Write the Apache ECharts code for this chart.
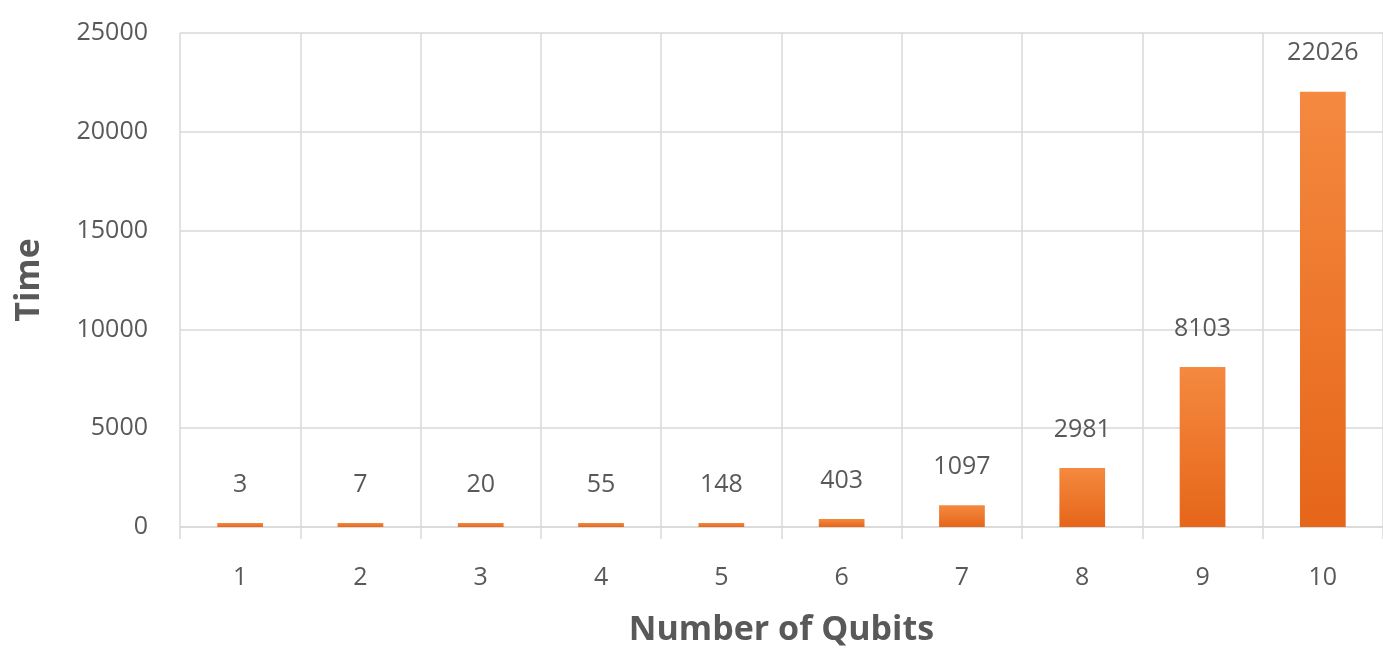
<!DOCTYPE html>
<html>
<head>
<meta charset="utf-8">
<script src="https://cdn.jsdelivr.net/npm/echarts@6/dist/echarts.min.js"></script>
<style>
  html, body { margin: 0; padding: 0; background: #fff; }
  #chart { width: 1383px; height: 657px; }
</style>
</head>
<body>
<div id="chart"></div>
<script>
const qubits = ['1', '2', '3', '4', '5', '6', '7', '8', '9', '10']
const times = [3, 7, 20, 55, 148, 403, 1097, 2981, 8103, 22026]

const textColor = '#595959'
const lineColor = '#d9d9d9'
const font = 'Open Sans'

const chart = echarts.init(document.getElementById('chart'))
chart.setOption({
  animation: false,
  grid: { left: 180, right: -5, top: 33, bottom: 130 },
  xAxis: {
    type: 'category',
    data: qubits,
    name: 'Number of Qubits',
    nameLocation: 'middle',
    nameGap: 86,
    nameTextStyle: { fontFamily: font, fontSize: 34, fontWeight: 'bold', color: textColor },
    axisLine: { lineStyle: { color: lineColor, width: 1.5 } },
    axisTick: { show: true, length: 12, lineStyle: { color: lineColor, width: 1.5 } },
    axisLabel: { margin: 38, fontFamily: font, fontSize: 25, color: textColor },
    splitLine: { show: true, lineStyle: { color: lineColor, width: 1.5 } }
  },
  yAxis: {
    type: 'value',
    min: 0,
    max: 25000,
    interval: 5000,
    name: 'Time',
    nameLocation: 'middle',
    nameGap: 134,
    nameTextStyle: { fontFamily: font, fontSize: 34, fontWeight: 'bold', color: textColor },
    axisLine: { show: false },
    axisTick: { show: false },
    axisLabel: { margin: 32, fontFamily: font, fontSize: 25, color: textColor, formatter: v => String(v) },
    splitLine: { lineStyle: { color: lineColor, width: 1.5 } }
  },
  series: [{
    type: 'bar',
    data: times,
    barWidth: '38%',
    barMinHeight: 4,
    itemStyle: {
      color: new echarts.graphic.LinearGradient(0, 0, 0, 1, [
        { offset: 0, color: '#F4893F' },
        { offset: 1, color: '#E6661A' }
      ])
    },
    label: {
      show: true,
      position: 'top',
      distance: 26,
      fontFamily: font,
      fontSize: 25,
      color: textColor
    }
  }]
})
</script>
</body>
</html>
